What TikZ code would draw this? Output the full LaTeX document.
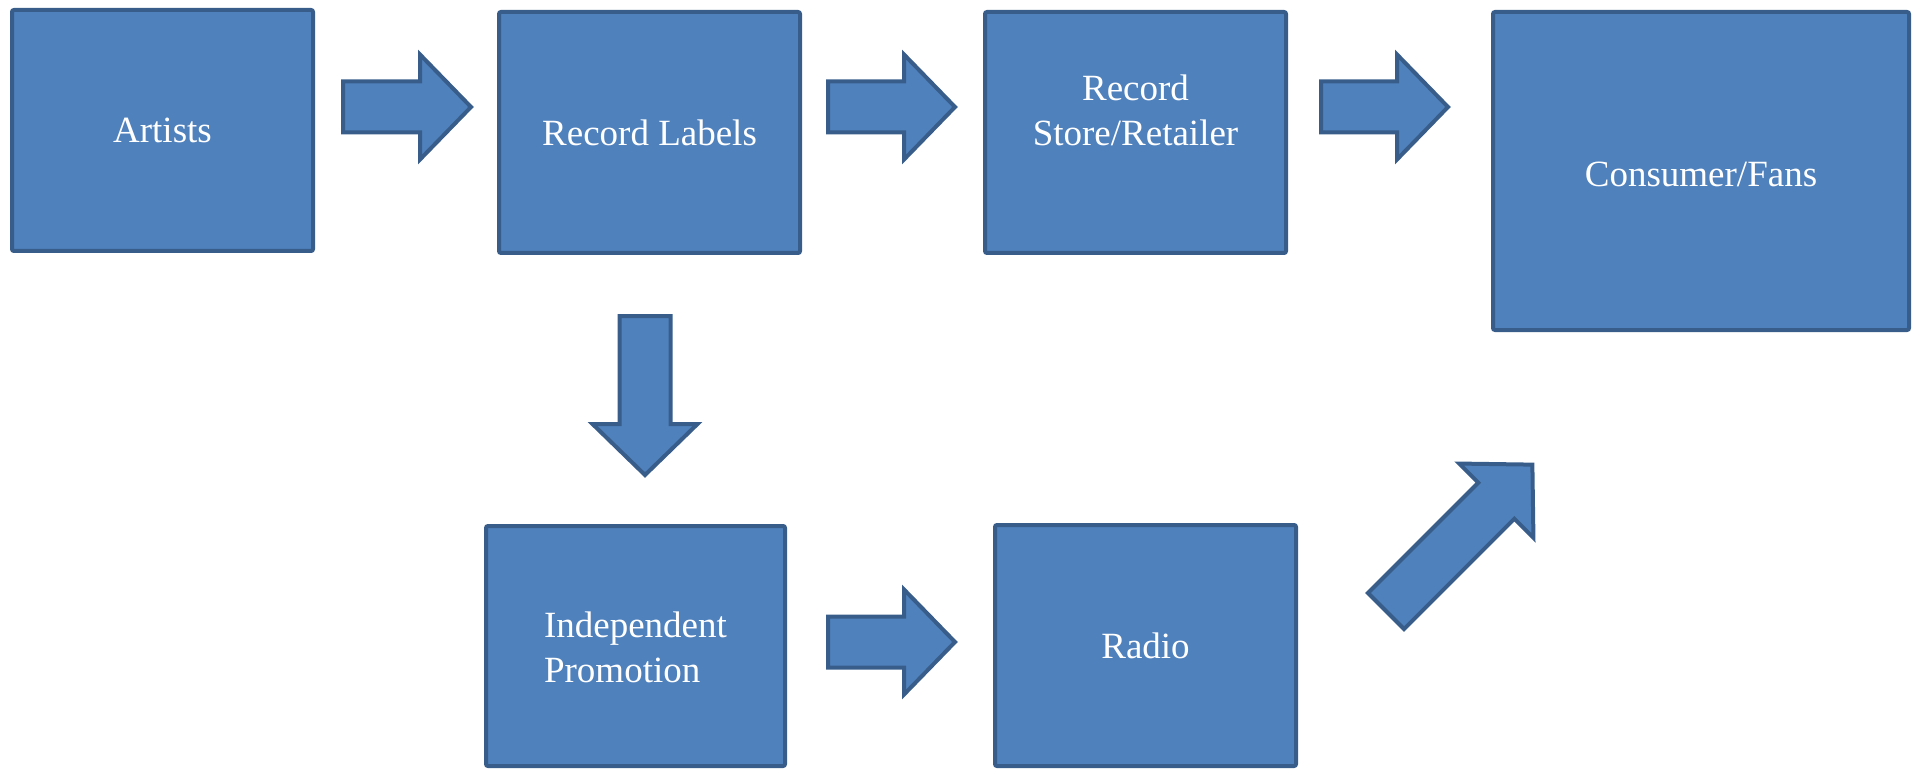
\documentclass[tikz,border=0pt]{standalone}
\usepackage{fontspec}
\setmainfont{Liberation Serif}
\definecolor{boxfill}{HTML}{4F81BD}
\definecolor{boxline}{HTML}{385D8A}
\begin{document}
\begin{tikzpicture}[x=1pt,y=-1pt,
  box/.style={draw=boxline, fill=boxfill, line width=4pt, rounded corners=2pt,
    minimum width=301pt, minimum height=241pt, inner sep=0pt},
  lbl/.style={text=white, font=\fontsize{37}{45}\selectfont, align=center},
  pics/blockarrow/.style={code={
    \draw[draw=boxline, fill=boxfill, line width=4pt, line join=miter]
      (0pt,25.5pt) -- (#1pt,25.5pt) -- (#1pt,52.5pt) -- ({#1pt+51pt},0pt)
      -- (#1pt,-52.5pt) -- (#1pt,-25.5pt) -- (0pt,-25.5pt) -- cycle;}}]
\useasboundingbox (0,0) rectangle (1920,770);

% boxes
\node[box, lbl] (art) at (162.5,130.5) {Artists};
\node[box, lbl] (lab) at (649.5,132.5) {Record Labels};
\node[box] (store) at (1135.5,132.5) {};
\node[lbl] (storetxt) at (1135.5,110) {Record\\Store/Retailer};
\node[box, lbl, minimum width=416pt, minimum height=318pt] (fans) at (1701,171) {};
\node[lbl] (fanstxt) at (1701,174) {Consumer/Fans};
\node[box, minimum width=299pt, minimum height=240pt] (indep) at (635.5,646) {};
\node[lbl, align=left] (indeptxt) at (635.5,647) {Independent\\Promotion};
\node[box, lbl] (radio) at (1145.5,645.5) {Radio};

% block arrows
\pic at (343,107) {blockarrow=77};
\pic at (828,107) {blockarrow=76};
\pic at (1321,107) {blockarrow=76};
\pic at (828,642) {blockarrow=76};
\pic[rotate=-90] at (645,316) {blockarrow=108};
\pic[rotate=45] at (1386,611) {blockarrow=156};
\end{tikzpicture}
\end{document}
